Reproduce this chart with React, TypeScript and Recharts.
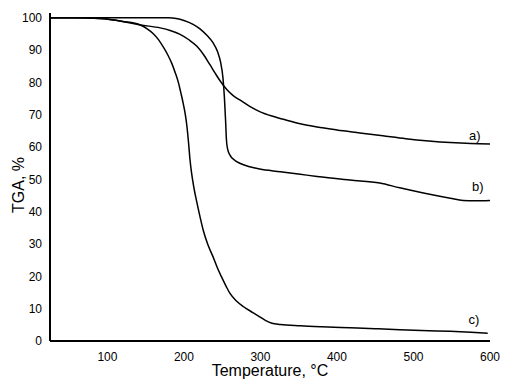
import { LineChart, Line, XAxis, YAxis, ReferenceDot } from "recharts"

// curve a)
const tempA = [25, 60, 90, 120, 143, 169, 182, 195, 206, 217, 226, 234, 241, 247, 256, 264, 273, 286, 299, 315, 330, 352, 374, 400, 430, 460, 490, 520, 548, 575, 600]
const tgaA = [100, 100, 99.8, 98.9, 97.8, 96.9, 96.1, 94.9, 93.3, 91.2, 88.5, 85.5, 82.8, 80.6, 77.8, 76.0, 74.6, 72.6, 71.0, 69.6, 68.6, 67.2, 66.2, 65.3, 64.4, 63.5, 62.6, 61.9, 61.4, 61.1, 61.0]

// curve b)
const tempB = [25, 100, 150, 180, 190, 200, 212, 221, 230, 238, 244, 248, 251, 253, 254.5, 255.5, 257, 260, 266, 273, 286, 299, 326, 352, 374, 417, 456, 482, 513, 548, 565, 580, 600]
const tgaB = [100, 100, 100, 100, 99.8, 99.2, 98.0, 96.6, 94.6, 92.3, 89.5, 86.2, 81.5, 75, 68, 62.5, 59.5, 57.6, 56.0, 55.0, 53.9, 53.2, 52.4, 51.6, 50.9, 49.8, 48.9, 47.4, 45.8, 44.2, 43.5, 43.4, 43.5]

// curve c)
const tempC = [25, 60, 90, 120, 143, 152, 160, 167, 173, 179, 184, 189, 193, 196, 199, 202, 204, 206, 208, 210, 213, 217, 221, 225, 231, 238, 244, 249, 255, 260, 269, 278, 290, 299, 307, 315, 326, 352, 380, 417, 450, 482, 520, 548, 575, 597]
const tgaC = [100, 100, 99.8, 98.9, 97.8, 96.6, 95.1, 93.2, 91.0, 88.5, 86.0, 82.8, 79.8, 76.8, 73.6, 69.8, 66.3, 61.5, 56.0, 52.0, 47.5, 42.8, 38.5, 34.5, 30.0, 26.1, 22.5, 19.9, 17.0, 14.8, 12.3, 10.6, 8.8, 7.5, 6.3, 5.5, 5.1, 4.7, 4.4, 4.1, 3.8, 3.5, 3.2, 3.0, 2.7, 2.4]

const curveNames = ["a)", "b)", "c)"]
const labelTemps = [580, 584, 579]
const labelTgas = [63.5, 47.8, 6.8]

const xTicks = [100, 200, 300, 400, 500, 600]
const yTicks = [0, 10, 20, 30, 40, 50, 60, 70, 80, 90, 100]

const FONT = "'Liberation Sans', Arial, Helvetica, sans-serif"

const toPoints = (temps: number[], tgas: number[]) =>
    temps.map((t, i) => ({ t, tga: tgas[i] }))

const series = [toPoints(tempA, tgaA), toPoints(tempB, tgaB), toPoints(tempC, tgaC)]

const tickStyle = { fontSize: 12, fill: "#000", fontFamily: FONT }
const axisLine = { stroke: "#000", strokeWidth: 2 }

// rotated y title, sits a little below the plot's middle like the original
function YTitle(props: any) {
    const vb = props.viewBox || {}
    const x = (vb.x ?? 0) + 10.5
    const y = (vb.y ?? 0) + (vb.height ?? 0) / 2 + 8
    return (
        <text
            x={x}
            y={y}
            transform={`rotate(-90, ${x}, ${y})`}
            textAnchor="middle"
            dominantBaseline="central"
            fontSize={16}
            fill="#000"
            fontFamily={FONT}
        >
            TGA, %
        </text>
    )
}

export default function App() {
    return (
        <LineChart
            width={495}
            height={374}
            margin={{ top: 5, right: 13, bottom: 7, left: 0 }}
            style={{ fontFamily: FONT }}
        >
            <XAxis
                type="number"
                dataKey="t"
                domain={[25, 600]}
                ticks={xTicks}
                tickLine={false}
                axisLine={axisLine}
                tick={tickStyle}
                tickMargin={5}
                height={34}
                label={{
                    value: "Temperature, °C",
                    position: "insideBottom",
                    offset: -1,
                    style: { fontSize: 16, fill: "#000", fontFamily: FONT },
                }}
            />
            <YAxis
                type="number"
                domain={[0, 101.5]}
                ticks={yTicks}
                tickLine={false}
                axisLine={axisLine}
                tick={tickStyle}
                width={42}
                label={<YTitle />}
            />
            {series.map((data, i) => (
                <Line
                    key={curveNames[i]}
                    data={data}
                    dataKey="tga"
                    type="monotone"
                    stroke="#000"
                    strokeWidth={1.5}
                    dot={false}
                    activeDot={false}
                    isAnimationActive={false}
                />
            ))}
            {curveNames.map((name, i) => (
                <ReferenceDot
                    key={name}
                    x={labelTemps[i]}
                    y={labelTgas[i]}
                    r={0}
                    fill="none"
                    stroke="none"
                    label={{
                        value: name,
                        position: "center",
                        style: { fontSize: 13, fill: "#000", fontFamily: FONT },
                    }}
                />
            ))}
        </LineChart>
    )
}
